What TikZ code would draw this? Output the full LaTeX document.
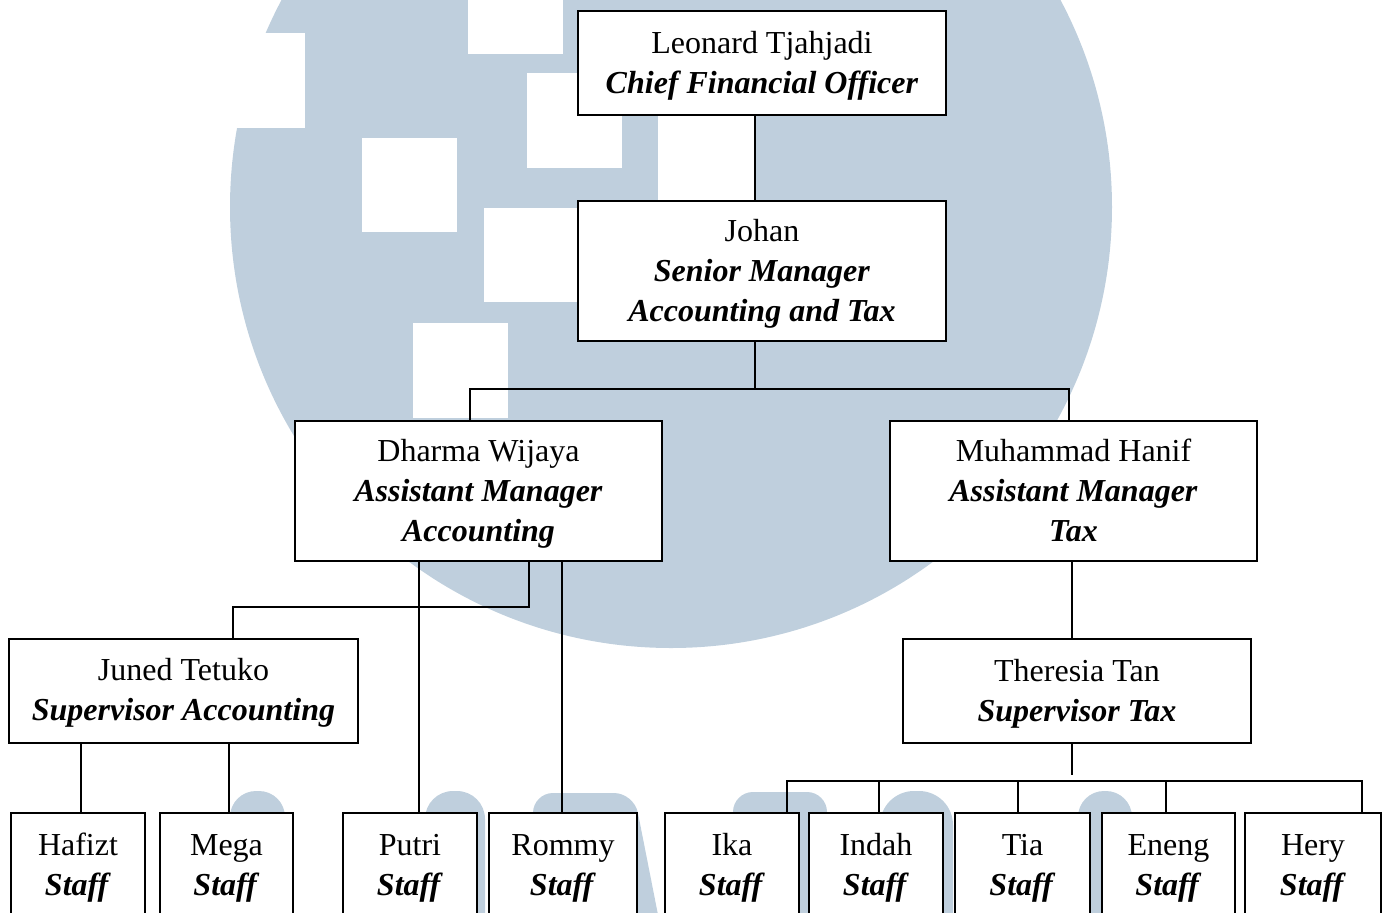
\documentclass[tikz,border=0pt]{standalone}
\usepackage{fontspec}
\setmainfont{Liberation Serif}
\definecolor{wm}{RGB}{191,207,221}
\newcommand{\jobrole}[1]{\textbf{\textit{#1}}}
\newcommand{\lstrut}{\rule[-5pt]{0pt}{20pt}}
\begin{document}
\begin{tikzpicture}[x=0.5pt,y=-0.5pt,
  box/.style={draw=black, line width=1pt, fill=white, align=center, inner sep=0pt,
              font=\fontsize{16}{20}\selectfont},
  bigbox/.style={box, minimum width=184pt, minimum height=70pt},
  supbox/.style={box, minimum height=52pt},
  staffbox/.style={box, minimum height=52pt, minimum width=67pt},
  conn/.style={draw=black, line width=0.75pt},
  wmfill/.style={fill=wm},
  cut/.style={fill=white}]
\path[use as bounding box] (0,0) rectangle (1383,912);
\begin{scope}
\clip (0,0) rectangle (1383,912);
% ---- watermark ----
\fill[wmfill] (671,207) circle[radius=441];
\fill[cut] (150,33) rectangle (305,128);
\fill[cut] (468,-5) rectangle (563,54);
\fill[cut] (527,73) rectangle (622,168);
\fill[cut] (362,138) rectangle (457,232);
\fill[cut] (484,208) rectangle (580,302);
\fill[cut] (413,323) rectangle (508,418);
\fill[cut] (658,105) rectangle (755,200);
\fill[wmfill, rounded corners=13pt] (230,791) rectangle (285,980);
\fill[wmfill, rounded corners=14pt] (425,791) rectangle (485,980);
\fill[wmfill, rounded corners=10pt] (533,980) -- (533,793) -- (634,793) -- (662,935) -- (600,980) -- cycle;
\fill[wmfill, rounded corners=10pt] (733,792) rectangle (827,980);
\fill[wmfill, rounded corners=17pt] (880,791) rectangle (953,980);
\fill[wmfill, rounded corners=13pt] (1078,791) rectangle (1132,980);
% ---- boxes ----
\node[box, minimum width=184pt, minimum height=52pt] (leo) at (762,63)
  {\lstrut Leonard Tjahjadi\\\jobrole{Chief Financial Officer}\lstrut};
\node[bigbox] (joh) at (762,271)
  {\lstrut Johan\\\jobrole{Senior Manager}\\\jobrole{Accounting and Tax}\lstrut};
\node[bigbox, minimum width=183.5pt] (dha) at (478.5,491)
  {\lstrut Dharma Wijaya\\\jobrole{Assistant Manager}\\\jobrole{Accounting}\lstrut};
\node[bigbox, minimum width=183.5pt] (han) at (1073.5,491)
  {\lstrut Muhammad Hanif\\\jobrole{Assistant Manager}\\\jobrole{Tax}\lstrut};
\node[supbox, minimum width=174.5pt] (jun) at (183.5,690.5)
  {\lstrut Juned Tetuko\\\jobrole{Supervisor Accounting}\lstrut};
\node[supbox, minimum width=174pt] (the) at (1077,691)
  {\lstrut Theresia Tan\\\jobrole{Supervisor Tax}\lstrut};
\node[staffbox] (haf) at (78,865) {\lstrut Hafizt\\\jobrole{Staff}\lstrut};
\node[staffbox, minimum width=66.5pt] (meg) at (226.5,865) {\lstrut Mega\\\jobrole{Staff}\lstrut};
\node[staffbox] (put) at (410,865) {\lstrut Putri\\\jobrole{Staff}\lstrut};
\node[staffbox, minimum width=74pt] (rom) at (563,865) {\lstrut Rommy\\\jobrole{Staff}\lstrut};
\node[staffbox] (ika) at (732,865) {\lstrut Ika\\\jobrole{Staff}\lstrut};
\node[staffbox] (ind) at (876,865) {\lstrut Indah\\\jobrole{Staff}\lstrut};
\node[staffbox, minimum width=67.5pt] (tia) at (1022.5,865) {\lstrut Tia\\\jobrole{Staff}\lstrut};
\node[staffbox, minimum width=66.5pt] (ene) at (1168.5,865) {\lstrut Eneng\\\jobrole{Staff}\lstrut};
\node[staffbox, minimum width=68pt] (her) at (1313,865) {\lstrut Hery\\\jobrole{Staff}\lstrut};
% ---- connectors ----
\draw[conn] (755,0 |- leo.south) -- (755,0 |- joh.north);
\draw[conn] (755,0 |- joh.south) -- (755,389);
\draw[conn] (470,0 |- dha.north) |- (1069,389) -- (1069,0 |- han.north);
\draw[conn] (529,0 |- dha.south) |- (233,607) -- (233,0 |- jun.north);
\draw[conn] (419,0 |- dha.south) -- (419,0 |- put.north);
\draw[conn] (562,0 |- dha.south) -- (562,0 |- rom.north);
\draw[conn] (81,0 |- jun.south) -- (81,0 |- haf.north);
\draw[conn] (229,0 |- jun.south) -- (229,0 |- meg.north);
\draw[conn] (1072,0 |- han.south) -- (1072,0 |- the.north);
\draw[conn] (1072,0 |- the.south) -- (1072,775);
\draw[conn] (787,0 |- ika.north) |- (1362,781) -- (1362,0 |- her.north);
\draw[conn] (879,780) -- (879,0 |- ind.north);
\draw[conn] (1018,781) -- (1018,0 |- tia.north);
\draw[conn] (1166,781) -- (1166,0 |- ene.north);
\end{scope}
\end{tikzpicture}
\end{document}
